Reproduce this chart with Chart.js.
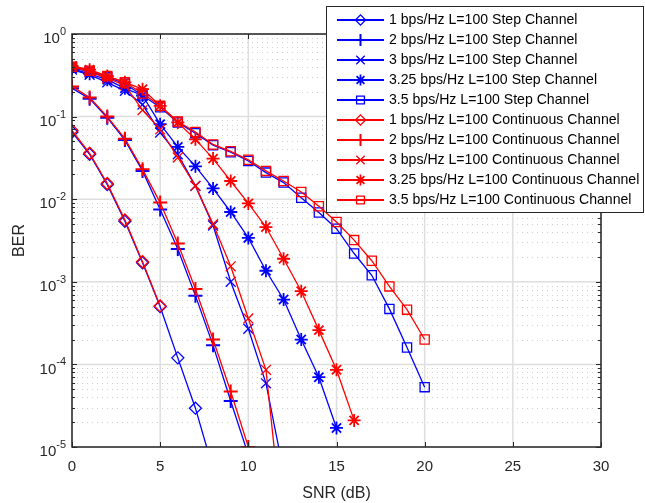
<!doctype html>
<html lang="en">
<head>
<meta charset="utf-8">
<title>BER vs SNR</title>
<script src="https://cdn.jsdelivr.net/npm/chart.js@4.4.0/dist/chart.umd.min.js"></script>
<style>
  html, body { margin: 0; padding: 0; background: #fff; }
  #wrap { width: 645px; height: 503px; }
</style>
</head>
<body>
<div id="wrap"><canvas id="berChart" width="645" height="503"></canvas></div>
<script>
// SNR points (dB) for each curve
const snr1Step = [0, 1, 2, 3, 4, 5, 6, 7, 8];
const snr1Cont = [0, 1, 2, 3, 4, 5];
const snr2 = [0, 1, 2, 3, 4, 5, 6, 7, 8, 9, 10];
const snr3 = [0, 1, 2, 3, 4, 5, 6, 7, 8, 9, 10, 11, 12];
const snr325Step = [0, 1, 2, 3, 4, 5, 6, 7, 8, 9, 10, 11, 12, 13, 14, 15];
const snr325Cont = [0, 1, 2, 3, 4, 5, 6, 7, 8, 9, 10, 11, 12, 13, 14, 15, 16];
const snr35 = [0, 1, 2, 3, 4, 5, 6, 7, 8, 9, 10, 11, 12, 13, 14, 15, 16, 17, 18, 19, 20];

// BER values
const ber1Step = [0.065, 0.035, 0.015, 0.0054, 0.0017, 5.0e-4, 1.2e-4, 2.95e-5, 5.4e-6];
const ber1Cont = [0.068, 0.036, 0.0155, 0.0056, 0.00175, 5.1e-4];
const ber2Step = [0.22, 0.165, 0.097, 0.052, 0.022, 0.0075, 0.0025, 6.8e-4, 1.7e-4, 3.6e-5, 8e-6];
const ber2Cont = [0.232, 0.17, 0.1, 0.054, 0.023, 0.0091, 0.0029, 8.2e-4, 2.0e-4, 4.7e-5, 1.0e-5];
const ber3Step = [0.37, 0.32, 0.26, 0.205, 0.14, 0.064, 0.035, 0.0145, 0.0048, 1.0e-3, 2.7e-4, 5.9e-5, 5e-6];
const ber3Cont = [0.40, 0.35, 0.29, 0.24, 0.12, 0.07, 0.032, 0.0145, 0.005, 1.54e-3, 3.6e-4, 8.6e-5, 8e-7];
const ber325Step = [0.38, 0.33, 0.28, 0.22, 0.18, 0.081, 0.043, 0.025, 0.0135, 0.0070, 0.0034, 0.00136, 6.1e-4, 2.0e-4, 7.0e-5, 1.7e-5];
const ber325Cont = [0.41, 0.37, 0.31, 0.26, 0.215, 0.135, 0.085, 0.053, 0.031, 0.0166, 0.0089, 0.0046, 0.0019, 7.7e-4, 2.6e-4, 8.6e-5, 2.1e-5];
const ber35Step = [0.39, 0.35, 0.30, 0.25, 0.18, 0.13, 0.085, 0.063, 0.045, 0.037, 0.029, 0.021, 0.0159, 0.0104, 0.0069, 0.0044, 0.0022, 0.0012, 4.7e-4, 1.6e-4, 5.3e-5];
const ber35Cont = [0.40, 0.36, 0.31, 0.26, 0.19, 0.135, 0.087, 0.065, 0.046, 0.038, 0.030, 0.022, 0.0166, 0.0122, 0.0082, 0.0053, 0.0032, 0.0018, 8.8e-4, 4.6e-4, 2.0e-4];

const xTicks = [0, 5, 10, 15, 20, 25, 30];
const yDecades = [0, -1, -2, -3, -4, -5];

const FONT = "'Liberation Sans', Arial, Helvetica, sans-serif";
const AXIS_COLOR = '#262626';
const BLUE = '#0000ff';
const RED = '#ff0000';

// marker look, MATLAB style
const markers = {
  diamond: { pointStyle: 'rectRot', radius: 6, width: 1.3 },
  plus: { pointStyle: 'cross', radius: 7, width: 2 },
  x: { pointStyle: 'crossRot', radius: 7, width: 1.3 },
  star: { pointStyle: 'star', radius: 6.5, width: 1.8 },
  square: { pointStyle: 'rect', radius: 6.5, width: 1.3 }
};

function series(label, xs, ys, color, marker, order) {
  const m = markers[marker];
  return {
    label: label,
    data: xs.map((x, i) => ({ x: x, y: ys[i] })),
    borderColor: color,
    backgroundColor: 'rgba(0,0,0,0)',
    borderWidth: 1.3,
    pointStyle: m.pointStyle,
    pointRadius: m.radius,
    pointHoverRadius: m.radius,
    pointBorderWidth: m.width,
    pointBorderColor: color,
    pointBackgroundColor: 'rgba(0,0,0,0)',
    fill: false,
    tension: 0,
    order: order
  };
}

const datasets = [
  series('1 bps/Hz L=100 Step Channel', snr1Step, ber1Step, BLUE, 'diamond', 1),
  series('2 bps/Hz L=100 Step Channel', snr2, ber2Step, BLUE, 'plus', 1),
  series('3 bps/Hz L=100 Step Channel', snr3, ber3Step, BLUE, 'x', 1),
  series('3.25 bps/Hz L=100 Step Channel', snr325Step, ber325Step, BLUE, 'star', 1),
  series('3.5 bps/Hz L=100 Step Channel', snr35, ber35Step, BLUE, 'square', 1),
  series('1 bps/Hz L=100 Continuous Channel', snr1Cont, ber1Cont, RED, 'diamond', 0),
  series('2 bps/Hz L=100 Continuous Channel', snr2, ber2Cont, RED, 'plus', 0),
  series('3 bps/Hz L=100 Continuous Channel', snr3, ber3Cont, RED, 'x', 0),
  series('3.25 bps/Hz L=100 Continuous Channel', snr325Cont, ber325Cont, RED, 'star', 0),
  series('3.5 bps/Hz L=100 Continuous Channel', snr35, ber35Cont, RED, 'square', 0)
];

// grid lines behind the curves
const gridPlugin = {
  id: 'matlabGrid',
  beforeDatasetsDraw(chart) {
    const ctx = chart.ctx, a = chart.chartArea;
    const xs = chart.scales.x, ys = chart.scales.y;
    ctx.save();
    ctx.lineWidth = 1;
    ctx.strokeStyle = '#cfcfcf';
    ctx.setLineDash([1, 4]);
    yDecades.forEach(e => {
      if (e === 0) return;
      for (let m = 2; m <= 9; m++) {
        const py = Math.round(ys.getPixelForValue(m * Math.pow(10, e))) + 0.5;
        ctx.beginPath();
        ctx.moveTo(a.left, py);
        ctx.lineTo(a.right, py);
        ctx.stroke();
      }
    });
    ctx.setLineDash([]);
    ctx.strokeStyle = '#dedede';
    ctx.lineWidth = 1.5;
    yDecades.forEach(e => {
      const py = ys.getPixelForValue(Math.pow(10, e));
      ctx.beginPath();
      ctx.moveTo(a.left, py);
      ctx.lineTo(a.right, py);
      ctx.stroke();
    });
    xTicks.forEach(t => {
      const px = xs.getPixelForValue(t);
      ctx.beginPath();
      ctx.moveTo(px, a.top);
      ctx.lineTo(px, a.bottom);
      ctx.stroke();
    });
    ctx.restore();
  }
};

// axes box, inward ticks, y labels with exponents, legend box
const framePlugin = {
  id: 'matlabFrame',
  afterDraw(chart) {
    const ctx = chart.ctx, a = chart.chartArea;
    const xs = chart.scales.x, ys = chart.scales.y;
    ctx.save();
    ctx.strokeStyle = AXIS_COLOR;
    ctx.lineWidth = 1.5;
    ctx.strokeRect(a.left, a.top, a.right - a.left, a.bottom - a.top);

    ctx.lineWidth = 1;
    ctx.beginPath();
    xTicks.forEach(t => {
      const px = Math.round(xs.getPixelForValue(t)) + 0.5;
      ctx.moveTo(px, a.bottom); ctx.lineTo(px, a.bottom - 5);
      ctx.moveTo(px, a.top); ctx.lineTo(px, a.top + 5);
    });
    yDecades.forEach(e => {
      const py = Math.round(ys.getPixelForValue(Math.pow(10, e))) + 0.5;
      ctx.moveTo(a.left, py); ctx.lineTo(a.left + 5, py);
      ctx.moveTo(a.right, py); ctx.lineTo(a.right - 5, py);
      if (e === 0) return;
      for (let m = 2; m <= 9; m++) {
        const q = Math.round(ys.getPixelForValue(m * Math.pow(10, e))) + 0.5;
        ctx.moveTo(a.left, q); ctx.lineTo(a.left + 3, q);
        ctx.moveTo(a.right, q); ctx.lineTo(a.right - 3, q);
      }
    });
    ctx.stroke();

    // y tick labels 10^n
    ctx.fillStyle = AXIS_COLOR;
    ctx.textBaseline = 'middle';
    ctx.textAlign = 'left';
    yDecades.forEach(e => {
      const py = ys.getPixelForValue(Math.pow(10, e));
      const exp = String(e);
      ctx.font = '11px ' + FONT;
      const wExp = ctx.measureText(exp).width;
      ctx.font = '15px ' + FONT;
      const wBase = ctx.measureText('10').width;
      const right = a.left - 6;
      ctx.fillText('10', right - wExp - wBase, py + 5);
      ctx.font = '11px ' + FONT;
      ctx.fillText(exp, right - wExp, py - 2);
    });

    // legend
    const lx = 326.5, ly = 6.5, lw = 317, lh = 206;
    ctx.fillStyle = '#ffffff';
    ctx.fillRect(lx, ly, lw, lh);
    ctx.strokeStyle = AXIS_COLOR;
    ctx.lineWidth = 1;
    ctx.strokeRect(lx, ly, lw, lh);
    ctx.font = '14.1px ' + FONT;
    ctx.textBaseline = 'middle';
    chart.data.datasets.forEach((ds, i) => {
      const cy = 20 + 20 * i;
      ctx.strokeStyle = ds.borderColor;
      ctx.lineWidth = 1.8;
      ctx.beginPath();
      ctx.moveTo(337, cy);
      ctx.lineTo(384, cy);
      ctx.stroke();
      ctx.fillStyle = 'rgba(0,0,0,0)';
      ctx.lineWidth = ds.pointBorderWidth;
      Chart.helpers.drawPoint(ctx, {
        pointStyle: ds.pointStyle,
        radius: ds.pointRadius * 0.85,
        rotation: 0,
        borderWidth: ds.pointBorderWidth
      }, 360.5, cy);
      ctx.fillStyle = '#000000';
      ctx.fillText(ds.label, 389, cy + 0.5);
    });
    ctx.restore();
  }
};

new Chart(document.getElementById('berChart').getContext('2d'), {
  type: 'line',
  data: { datasets: datasets },
  plugins: [gridPlugin, framePlugin],
  options: {
    responsive: false,
    animation: false,
    devicePixelRatio: 1,
    layout: { padding: { top: 34, right: 44, left: 0, bottom: 0 } },
    plugins: {
      legend: { display: false },
      tooltip: { enabled: false }
    },
    scales: {
      x: {
        type: 'linear',
        min: 0,
        max: 30,
        ticks: { stepSize: 5, color: AXIS_COLOR, font: { family: FONT, size: 15 }, padding: 11, maxRotation: 0 },
        grid: { display: false, drawTicks: false },
        border: { display: false },
        title: { display: true, text: 'SNR (dB)', color: AXIS_COLOR, font: { family: FONT, size: 16 }, padding: { top: 5, bottom: 0 } },
        afterFit(scale) { scale.height = 56; }
      },
      y: {
        type: 'logarithmic',
        min: 1e-5,
        max: 1,
        ticks: { display: false },
        grid: { display: false, drawTicks: false },
        border: { display: false },
        title: { display: true, text: 'BER', color: AXIS_COLOR, font: { family: FONT, size: 16 }, padding: { top: 10, bottom: 0 } },
        afterFit(scale) { scale.width = 72; }
      }
    }
  }
});
</script>
</body>
</html>
